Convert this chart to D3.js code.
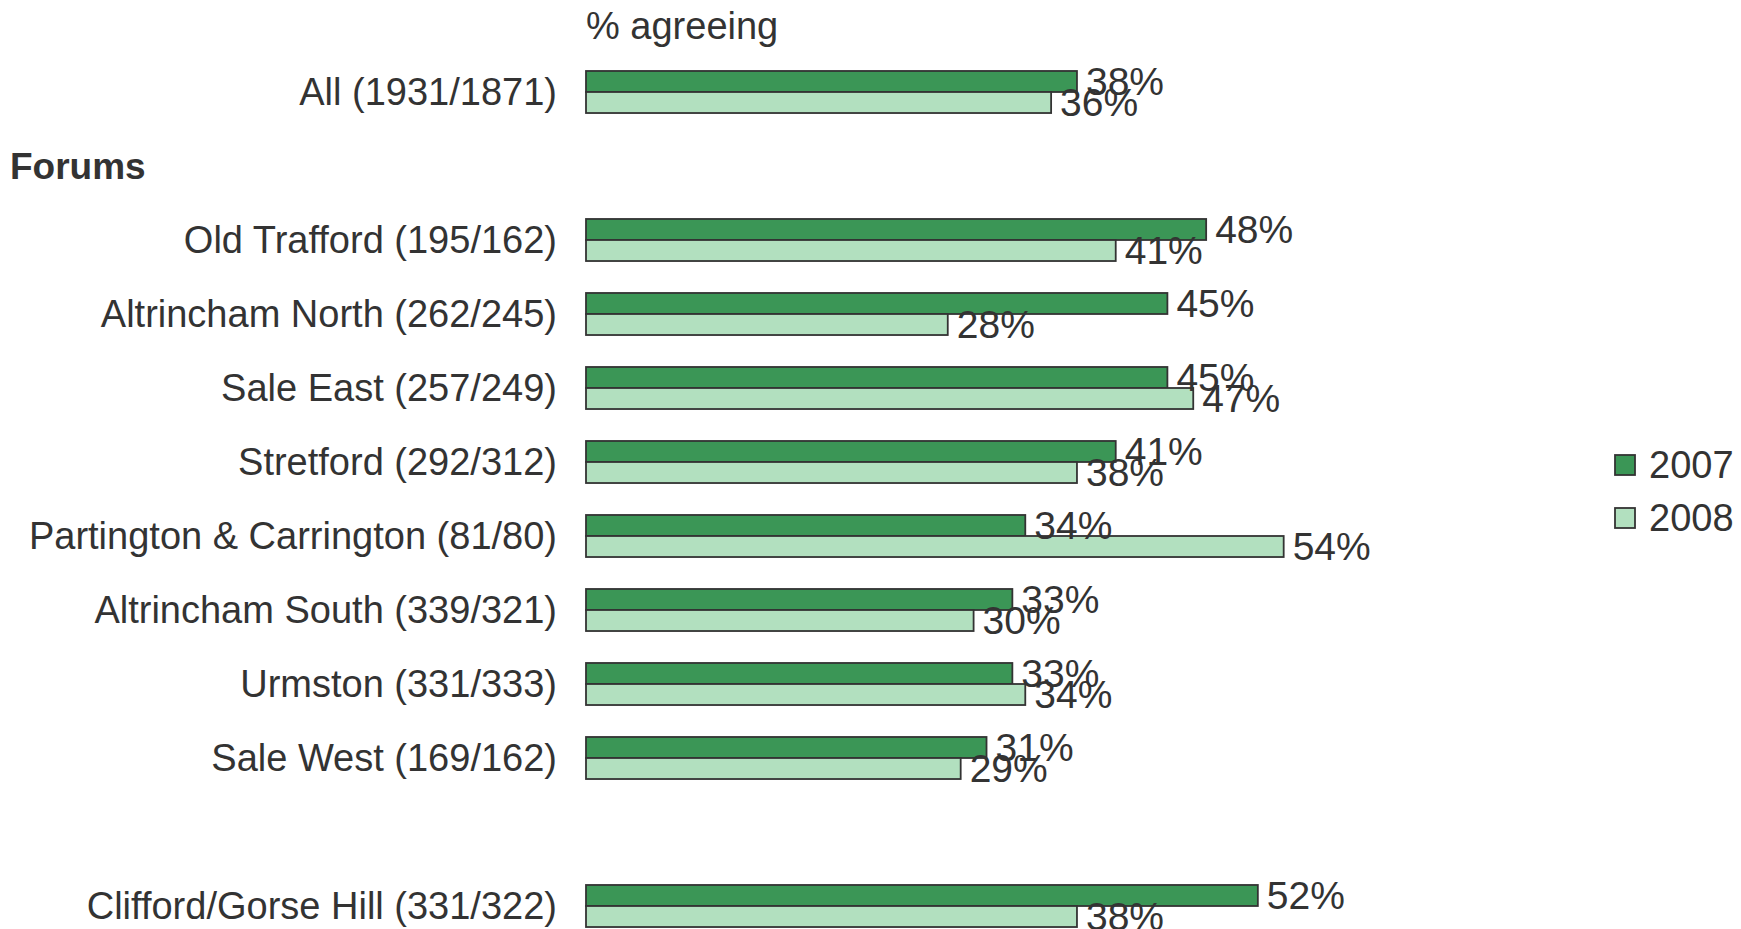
<!DOCTYPE html>
<html>
<head>
<style>
body { margin: 0; background: #fff; }
#chart { width: 1741px; height: 929px; display: block; }
text { font-family: "Liberation Sans", Arial, sans-serif; fill: #333; }
</style>
</head>
<body>
<svg id="chart"></svg>
<script src="https://d3js.org/d3.v7.min.js"></script>
<script>
    // rows of the chart, null = header / spacer row
    const categories = ["All (1931/1871)", null, "Old Trafford (195/162)", "Altrincham North (262/245)",
        "Sale East (257/249)", "Stretford (292/312)", "Partington & Carrington (81/80)",
        "Altrincham South (339/321)", "Urmston (331/333)", "Sale West (169/162)", null,
        "Clifford/Gorse Hill (331/322)"];
    const values2007 = [38, null, 48, 45, 45, 41, 34, 33, 33, 31, null, 52];
    const values2008 = [36, null, 41, 28, 47, 38, 54, 30, 34, 29, null, 38];
    const seriesNames = ["2007", "2008"];
    const colours = ["#3b9656", "#b2e0bf"];
    const headerText = "Forums";
    const axisTitle = "% agreeing";

    const svg = d3.select("#chart");
    const fontSize = 38;

    const y = d3.scaleBand()
        .domain(d3.range(categories.length))
        .range([55, 943])
        .paddingInner(0.432)
        .paddingOuter(0.216);
    const ySeries = d3.scaleBand().domain(seriesNames).range([0, y.bandwidth()]);
    const x = d3.scaleLinear().domain([0, 100]).range([586, 1878]);

    const rows = categories.map((c, i) => ({ i: i, name: c, vals: [values2007[i], values2008[i]] }));

    // category labels
    svg.selectAll("text.cat")
        .data(rows.filter(d => d.name))
        .enter().append("text")
        .attr("class", "cat")
        .attr("x", 557)
        .attr("y", d => y(d.i) + y.bandwidth() / 2)
        .attr("dy", "0.35em")
        .attr("text-anchor", "end")
        .attr("font-size", fontSize)
        .text(d => d.name);

    // header row
    svg.append("text")
        .attr("x", 10)
        .attr("y", y(1) + y.bandwidth() / 2)
        .attr("dy", "0.35em")
        .attr("font-size", 37)
        .attr("font-weight", "bold")
        .text(headerText);

    svg.append("text")
        .attr("x", 586)
        .attr("y", 26)
        .attr("dy", "0.35em")
        .attr("font-size", fontSize)
        .text(axisTitle);

    const bars = [];
    rows.forEach(r => {
        r.vals.forEach((v, s) => {
            if (v != null) bars.push({ i: r.i, s: s, v: v });
        });
    });

    svg.selectAll("rect.bar")
        .data(bars)
        .enter().append("rect")
        .attr("class", "bar")
        .attr("x", x(0))
        .attr("y", d => y(d.i) + ySeries(seriesNames[d.s]))
        .attr("width", d => x(d.v) - x(0))
        .attr("height", ySeries.bandwidth())
        .style("fill", d => colours[d.s])
        .style("stroke", "#333")
        .style("stroke-width", 1.8);

    svg.selectAll("text.val")
        .data(bars)
        .enter().append("text")
        .attr("class", "val")
        .attr("x", d => x(d.v) + 9)
        .attr("y", d => y(d.i) + ySeries(seriesNames[d.s]) + ySeries.bandwidth() / 2)
        .attr("dy", "0.35em")
        .attr("font-size", 39)
        .text(d => d.v + "%");

    // legend
    const legend = svg.selectAll("g.leg")
        .data(seriesNames)
        .enter().append("g")
        .attr("class", "leg")
        .attr("transform", (d, i) => "translate(1615," + (465 + i * 53) + ")");
    legend.append("rect")
        .attr("x", 0).attr("y", -10)
        .attr("width", 20).attr("height", 20)
        .style("fill", (d, i) => colours[i])
        .style("stroke", "#333")
        .style("stroke-width", 1.8);
    legend.append("text")
        .attr("x", 34)
        .attr("dy", "0.35em")
        .attr("font-size", fontSize)
        .text(d => d);
</script>
</body>
</html>
